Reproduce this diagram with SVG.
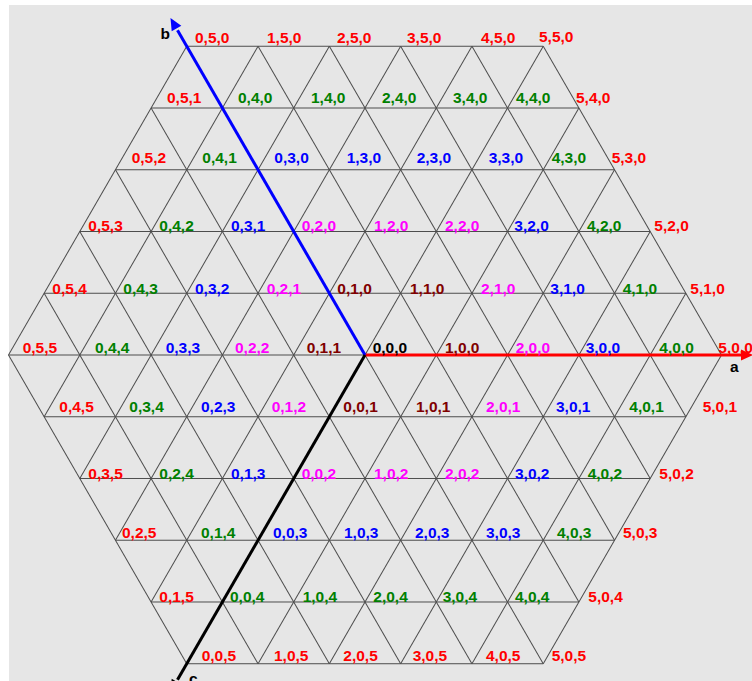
<svg xmlns="http://www.w3.org/2000/svg" xmlns:xlink="http://www.w3.org/1999/xlink" width="752" height="681" viewBox="0 0 752 681">
<style>
.gl line{stroke:#4d4d4d;stroke-width:1}
text{font-family:"Liberation Sans",Arial,sans-serif;font-weight:bold;font-size:15.5px}
.r{fill:#ff0000}.g{fill:#008000}.b{fill:#0000ff}.m{fill:#ff00ff}.d{fill:#800000}.k{fill:#000000}
</style>
<rect width="752" height="681" fill="#ffffff"/>
<rect x="9" y="5" width="743" height="676" fill="#e6e6e6"/>
<g id="grid">
<g id="hl" class="gl">
<line x1="186.75" y1="46.26" x2="543.25" y2="46.26"/>
<line x1="151.1" y1="108.01" x2="578.9" y2="108.01"/>
<line x1="115.45" y1="169.76" x2="614.55" y2="169.76"/>
<line x1="79.8" y1="231.51" x2="650.2" y2="231.51"/>
<line x1="44.15" y1="293.25" x2="685.85" y2="293.25"/>
<line x1="8.5" y1="355" x2="721.5" y2="355"/>
<line x1="44.15" y1="416.75" x2="685.85" y2="416.75"/>
<line x1="79.8" y1="478.49" x2="650.2" y2="478.49"/>
<line x1="115.45" y1="540.24" x2="614.55" y2="540.24"/>
<line x1="151.1" y1="601.99" x2="578.9" y2="601.99"/>
<line x1="186.75" y1="663.74" x2="543.25" y2="663.74"/>
</g>
<use xlink:href="#hl" transform="rotate(60 365 355)"/>
<use xlink:href="#hl" transform="rotate(120 365 355)"/>
</g>
<g id="connectors">
<g id="axis-a">
<line x1="365" y1="355" x2="744" y2="355" stroke="#ff0000" stroke-width="3"/>
<polygon points="753,355 741,349.5 741,360.5" fill="#ff0000"/>
<text x="730" y="372" class="k">a</text>
</g>
<g id="axis-b">
<line x1="365" y1="355" x2="177.5" y2="30.2" stroke="#0000ff" stroke-width="3"/>
<polygon points="170.5,18 181.3,25.65 171.7,31.15" fill="#0000ff"/>
<text x="160.5" y="38.5" class="k">b</text>
</g>
<g id="axis-c">
<line x1="365" y1="355" x2="177.5" y2="679.8" stroke="#000000" stroke-width="3"/>
<polygon points="170.5,692 181.3,684.35 171.7,678.85" fill="#000000"/>
<text x="189" y="684" class="k">c</text>
</g>
</g>
<g id="labels">
<g id="n050"><text x="195" y="43" class="r">0,5,0</text></g>
<g id="n150"><text x="267" y="43" class="r">1,5,0</text></g>
<g id="n250"><text x="337" y="43" class="r">2,5,0</text></g>
<g id="n350"><text x="407" y="43" class="r">3,5,0</text></g>
<g id="n450"><text x="481" y="43" class="r">4,5,0</text></g>
<g id="n550"><text x="539" y="41.7" class="r">5,5,0</text></g>

<g id="n051"><text x="167" y="102.5" class="r">0,5,1</text></g>
<g id="n040"><text x="238" y="102.5" class="g">0,4,0</text></g>
<g id="n140"><text x="311" y="102.5" class="g">1,4,0</text></g>
<g id="n240"><text x="382" y="102.5" class="g">2,4,0</text></g>
<g id="n340"><text x="453" y="102.5" class="g">3,4,0</text></g>
<g id="n440"><text x="516" y="102.5" class="g">4,4,0</text></g>
<g id="n540"><text x="576" y="102.5" class="r">5,4,0</text></g>

<g id="n052"><text x="131.7" y="162.5" class="r">0,5,2</text></g>
<g id="n041"><text x="202.3" y="162.5" class="g">0,4,1</text></g>
<g id="n030"><text x="274.3" y="162.5" class="b">0,3,0</text></g>
<g id="n130"><text x="346.7" y="162.5" class="b">1,3,0</text></g>
<g id="n230"><text x="416.7" y="162.5" class="b">2,3,0</text></g>
<g id="n330"><text x="488.7" y="162.5" class="b">3,3,0</text></g>
<g id="n430"><text x="551.7" y="162.5" class="g">4,3,0</text></g>
<g id="n530"><text x="611.7" y="162.5" class="r">5,3,0</text></g>

<g id="n053"><text x="88.3" y="230.5" class="r">0,5,3</text></g>
<g id="n042"><text x="159.3" y="230.5" class="g">0,4,2</text></g>
<g id="n031"><text x="231" y="230.5" class="b">0,3,1</text></g>
<g id="n020"><text x="301.7" y="230.5" class="m">0,2,0</text></g>
<g id="n120"><text x="374" y="230.5" class="m">1,2,0</text></g>
<g id="n220"><text x="445" y="230.5" class="m">2,2,0</text></g>
<g id="n320"><text x="514.3" y="230.5" class="b">3,2,0</text></g>
<g id="n420"><text x="587" y="230.5" class="g">4,2,0</text></g>
<g id="n520"><text x="654.3" y="230.5" class="r">5,2,0</text></g>

<g id="n054"><text x="52.3" y="293.5" class="r">0,5,4</text></g>
<g id="n043"><text x="123.3" y="293.5" class="g">0,4,3</text></g>
<g id="n032"><text x="195" y="293.5" class="b">0,3,2</text></g>
<g id="n021"><text x="266.7" y="293.5" class="m">0,2,1</text></g>
<g id="n010"><text x="337.3" y="293.5" class="d">0,1,0</text></g>
<g id="n110"><text x="410" y="293.5" class="d">1,1,0</text></g>
<g id="n210"><text x="481" y="293.5" class="m">2,1,0</text></g>
<g id="n310"><text x="550.3" y="293.5" class="b">3,1,0</text></g>
<g id="n410"><text x="622.7" y="293.5" class="g">4,1,0</text></g>
<g id="n510"><text x="690.3" y="293.5" class="r">5,1,0</text></g>

<g id="n055"><text x="22.7" y="352.5" class="r">0,5,5</text></g>
<g id="n044"><text x="95" y="352.5" class="g">0,4,4</text></g>
<g id="n033"><text x="165.7" y="352.5" class="b">0,3,3</text></g>
<g id="n022"><text x="235" y="352.5" class="m">0,2,2</text></g>
<g id="n011"><text x="306.7" y="352.5" class="d">0,1,1</text></g>
<g id="n000"><text x="372.7" y="352.5" class="k">0,0,0</text></g>
<g id="n100"><text x="445" y="352.5" class="d">1,0,0</text></g>
<g id="n200"><text x="515.7" y="352.5" class="m">2,0,0</text></g>
<g id="n300"><text x="585.7" y="352.5" class="b">3,0,0</text></g>
<g id="n400"><text x="659.3" y="352.5" class="g">4,0,0</text></g>
<g id="n500"><text x="718.3" y="352.5" class="r">5,0,0</text></g>

<g id="n045"><text x="59.3" y="412" class="r">0,4,5</text></g>
<g id="n034"><text x="129.3" y="412" class="g">0,3,4</text></g>
<g id="n023"><text x="201" y="412" class="b">0,2,3</text></g>
<g id="n012"><text x="271.7" y="412" class="m">0,1,2</text></g>
<g id="n001"><text x="343.3" y="412" class="d">0,0,1</text></g>
<g id="n101"><text x="416" y="412" class="d">1,0,1</text></g>
<g id="n201"><text x="486" y="412" class="m">2,0,1</text></g>
<g id="n301"><text x="556" y="412" class="b">3,0,1</text></g>
<g id="n401"><text x="629.3" y="412" class="g">4,0,1</text></g>
<g id="n501"><text x="702.7" y="412" class="r">5,0,1</text></g>

<g id="n035"><text x="88.3" y="478.5" class="r">0,3,5</text></g>
<g id="n024"><text x="159.3" y="478.5" class="g">0,2,4</text></g>
<g id="n013"><text x="231" y="478.5" class="b">0,1,3</text></g>
<g id="n002"><text x="301.7" y="478.5" class="m">0,0,2</text></g>
<g id="n102"><text x="374" y="478.5" class="m">1,0,2</text></g>
<g id="n202"><text x="445" y="478.5" class="m">2,0,2</text></g>
<g id="n302"><text x="515" y="478.5" class="b">3,0,2</text></g>
<g id="n402"><text x="587.7" y="478.5" class="g">4,0,2</text></g>
<g id="n502"><text x="659.3" y="478.5" class="r">5,0,2</text></g>

<g id="n025"><text x="122" y="538" class="r">0,2,5</text></g>
<g id="n014"><text x="201" y="538" class="g">0,1,4</text></g>
<g id="n003"><text x="273" y="538" class="b">0,0,3</text></g>
<g id="n103"><text x="344" y="538" class="b">1,0,3</text></g>
<g id="n203"><text x="415" y="538" class="b">2,0,3</text></g>
<g id="n303"><text x="486" y="538" class="b">3,0,3</text></g>
<g id="n403"><text x="557" y="538" class="g">4,0,3</text></g>
<g id="n503"><text x="623" y="538" class="r">5,0,3</text></g>

<g id="n015"><text x="159.3" y="601.5" class="r">0,1,5</text></g>
<g id="n004"><text x="230" y="601.5" class="g">0,0,4</text></g>
<g id="n104"><text x="302.7" y="601.5" class="g">1,0,4</text></g>
<g id="n204"><text x="373.3" y="601.5" class="g">2,0,4</text></g>
<g id="n304"><text x="442.7" y="601.5" class="g">3,0,4</text></g>
<g id="n404"><text x="515" y="601.5" class="g">4,0,4</text></g>
<g id="n504"><text x="588.3" y="601.5" class="r">5,0,4</text></g>

<g id="n005"><text x="201.7" y="660.5" class="r">0,0,5</text></g>
<g id="n105"><text x="274" y="660.5" class="r">1,0,5</text></g>
<g id="n205"><text x="343.3" y="660.5" class="r">2,0,5</text></g>
<g id="n305"><text x="412.7" y="660.5" class="r">3,0,5</text></g>
<g id="n405"><text x="486" y="660.5" class="r">4,0,5</text></g>
<g id="n505"><text x="551.7" y="660.5" class="r">5,0,5</text></g>
</g>
</svg>
